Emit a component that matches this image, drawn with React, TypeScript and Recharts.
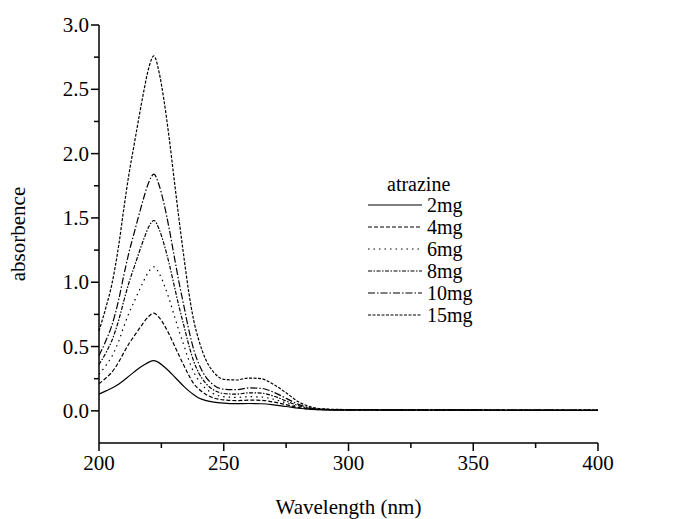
import React from 'react';
import { LineChart, Line, XAxis, YAxis } from 'recharts';

// wavelength (nm)
const wavelengths = [
  200, 203, 205, 208, 210, 212, 214, 216, 218, 220, 222, 224, 226, 228, 230, 232, 234, 236, 238, 240,
  243, 246, 250, 255, 260, 265, 270, 275, 280, 285, 290, 300, 325, 350, 375, 400,
];

// absorbence per atrazine amount
const mg2 = [
  0.13, 0.157, 0.176, 0.208, 0.238, 0.27, 0.301, 0.331, 0.357, 0.379, 0.39, 0.375, 0.345, 0.31, 0.27, 0.23, 0.19, 0.155, 0.125, 0.1,
  0.08, 0.068, 0.06, 0.056, 0.057, 0.055, 0.047, 0.034, 0.02, 0.012, 0.008, 0.006, 0.005, 0.005, 0.004, 0.004,
];
const mg4 = [
  0.21, 0.259, 0.297, 0.383, 0.455, 0.522, 0.579, 0.635, 0.69, 0.736, 0.76, 0.728, 0.672, 0.6, 0.517, 0.434, 0.354, 0.276, 0.21, 0.17,
  0.126, 0.1, 0.085, 0.08, 0.083, 0.082, 0.068, 0.048, 0.025, 0.013, 0.009, 0.007, 0.006, 0.005, 0.005, 0.004,
];
const mg6 = [
  0.285, 0.359, 0.418, 0.547, 0.657, 0.759, 0.845, 0.932, 1.014, 1.084, 1.12, 1.073, 0.986, 0.877, 0.751, 0.626, 0.511, 0.394, 0.3, 0.235,
  0.17, 0.132, 0.11, 0.105, 0.11, 0.108, 0.09, 0.062, 0.032, 0.016, 0.01, 0.008, 0.007, 0.006, 0.005, 0.005,
];
const mg8 = [
  0.36, 0.46, 0.539, 0.712, 0.859, 0.996, 1.112, 1.228, 1.338, 1.433, 1.48, 1.417, 1.3, 1.154, 0.986, 0.817, 0.664, 0.511, 0.384, 0.295,
  0.21, 0.162, 0.135, 0.13, 0.14, 0.138, 0.115, 0.077, 0.04, 0.018, 0.011, 0.008, 0.007, 0.006, 0.005, 0.005,
];
const mg10 = [
  0.43, 0.556, 0.655, 0.873, 1.059, 1.231, 1.377, 1.522, 1.661, 1.78, 1.84, 1.76, 1.615, 1.429, 1.218, 1.006, 0.818, 0.63, 0.474, 0.365,
  0.259, 0.2, 0.168, 0.165, 0.178, 0.175, 0.145, 0.097, 0.05, 0.022, 0.012, 0.009, 0.008, 0.007, 0.006, 0.005,
];
const mg15 = [
  0.62, 0.82, 0.97, 1.3, 1.58, 1.84, 2.06, 2.28, 2.49, 2.67, 2.76, 2.64, 2.42, 2.14, 1.82, 1.5, 1.2, 0.92, 0.7, 0.55,
  0.39, 0.3, 0.245, 0.24, 0.255, 0.25, 0.205, 0.14, 0.07, 0.03, 0.015, 0.01, 0.008, 0.007, 0.006, 0.005,
];

const xTicks = [200, 225, 250, 275, 300, 325, 350, 375, 400];
const yTicks = [0, 0.25, 0.5, 0.75, 1, 1.25, 1.5, 1.75, 2, 2.25, 2.5, 2.75, 3];

const series = [
  { key: 'mg2', name: '2mg', values: mg2, dash: undefined },
  { key: 'mg4', name: '4mg', values: mg4, dash: '4 2' },
  { key: 'mg6', name: '6mg', values: mg6, dash: '1.5 4' },
  { key: 'mg8', name: '8mg', values: mg8, dash: '4 1.5 1.5 1.5' },
  { key: 'mg10', name: '10mg', values: mg10, dash: '7 2 1.5 2' },
  { key: 'mg15', name: '15mg', values: mg15, dash: '3 1.5' },
];

const data = wavelengths.map((w, i) => {
  const row: Record<string, number> = { wl: w };
  series.forEach((s) => {
    row[s.key] = s.values[i];
  });
  return row;
});

const FONT = 'Liberation Serif, Times New Roman, DejaVu Serif, serif';

const YTick = (props: any) => {
  const { x, y, payload } = props;
  const v = payload.value as number;
  const major = Math.abs(v * 2 - Math.round(v * 2)) < 1e-6;
  return (
    <g>
      <line x1={x} x2={x - (major ? 8 : 5)} y1={y} y2={y} stroke="#000" strokeWidth={1.5} />
      {major && (
        <text x={x - 10} y={y + 7} textAnchor="end" style={{ fontFamily: FONT, fontSize: 21 }} fill="#000">
          {v.toFixed(1)}
        </text>
      )}
    </g>
  );
};

const XTick = (props: any) => {
  const { x, y, payload } = props;
  const v = payload.value as number;
  const major = v % 50 === 0;
  return (
    <g>
      <line x1={x} x2={x} y1={y} y2={y + (major ? 8 : 5)} stroke="#000" strokeWidth={1.5} />
      {major && (
        <text x={x} y={y + 27} textAnchor="middle" style={{ fontFamily: FONT, fontSize: 21 }} fill="#000">
          {v}
        </text>
      )}
    </g>
  );
};

const App = () => {
  return (
    <div style={{ position: 'absolute', left: 0, top: 0, width: 682, height: 519, background: '#fff', fontFamily: FONT }}>
      <LineChart width={682} height={519} data={data} margin={{ top: 25, right: 84, left: 0, bottom: 0 }} style={{ fontFamily: FONT }}>
        <XAxis
          dataKey="wl"
          type="number"
          domain={[200, 400]}
          ticks={xTicks}
          interval={0}
          height={76}
          tickSize={0}
          tickMargin={0}
          tick={<XTick />}
          axisLine={{ stroke: '#000', strokeWidth: 1.5 }}
          label={{ value: 'Wavelength (nm)', position: 'insideBottom', offset: 5, fontFamily: FONT, fontSize: 21, fill: '#000' }}
        />
        <YAxis
          type="number"
          domain={[-0.25, 3]}
          ticks={yTicks}
          interval={0}
          width={99}
          tickSize={0}
          tickMargin={0}
          tick={<YTick />}
          axisLine={{ stroke: '#000', strokeWidth: 1.5 }}
          allowDataOverflow
          label={{ value: 'absorbence', angle: -90, position: 'center', dx: -32, fontFamily: FONT, fontSize: 21, fill: '#000' }}
        />
        {series.map((s) => (
          <Line
            key={s.key}
            dataKey={s.key}
            name={s.name}
            type="monotone"
            stroke="#000"
            strokeWidth={1.2}
            strokeDasharray={s.dash}
            dot={false}
            activeDot={false}
            isAnimationActive={false}
          />
        ))}
      </LineChart>
      <div style={{ position: 'absolute', left: 368, top: 174, fontFamily: FONT, fontSize: 20, color: '#000', lineHeight: '20px' }}>
        <div style={{ paddingLeft: 19, height: 20 }}>atrazine</div>
        {series.map((s) => (
          <div key={s.key} style={{ display: 'flex', alignItems: 'center', height: 22 }}>
            <svg width={59} height={10}>
              <line x1={0} x2={54} y1={5} y2={5} stroke="#000" strokeWidth={1.2} strokeDasharray={s.dash} />
            </svg>
            <span>{s.name}</span>
          </div>
        ))}
      </div>
    </div>
  );
};

export default App;
